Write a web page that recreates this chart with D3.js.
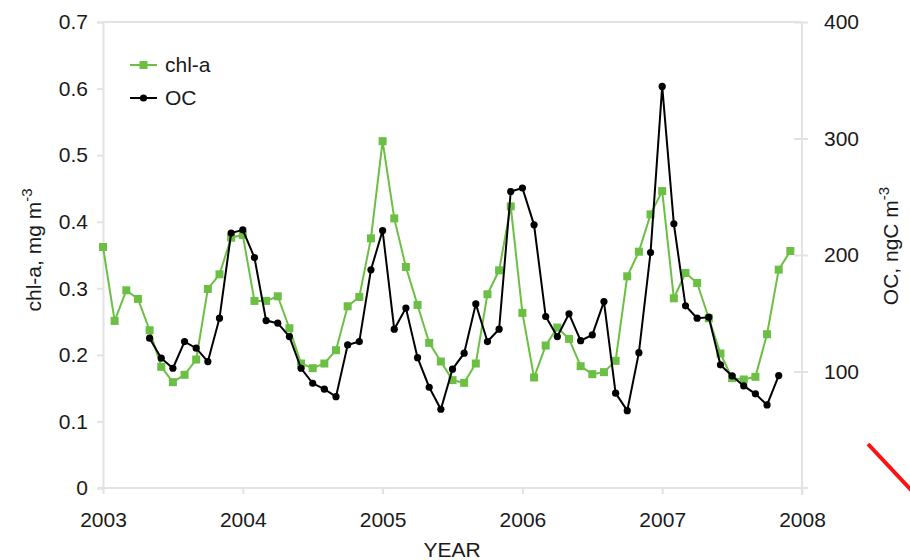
<!DOCTYPE html>
<html>
<head>
<meta charset="utf-8">
<script src="https://cdn.jsdelivr.net/npm/d3@7"></script>
<style>
  body { margin: 0; background: #fff; }
  text { font-family: "Liberation Sans", Arial, sans-serif; fill: #1a1a1a; }
</style>
</head>
<body>
<div id="chart"></div>
<script>
// monthly samples, Jan 2003 .. Dec 2007
var months = d3.range(60).map(function(i) { return 2003 + i / 12; });

var chlValues = [0.362, 0.251, 0.297, 0.284, 0.237, 0.182, 0.159, 0.170, 0.193, 0.299, 0.321, 0.376,
  0.380, 0.281, 0.281, 0.288, 0.240, 0.187, 0.180, 0.187, 0.207, 0.273, 0.287, 0.375,
  0.521, 0.405, 0.332, 0.275, 0.218, 0.190, 0.162, 0.158, 0.187, 0.291, 0.327, 0.423,
  0.263, 0.166, 0.214, 0.241, 0.224, 0.183, 0.171, 0.174, 0.191, 0.318, 0.355, 0.411,
  0.446, 0.285, 0.323, 0.308, 0.255, 0.202, 0.165, 0.163, 0.167, 0.231, 0.328, 0.356];

var ocValues = [null, null, null, null, 128.6, 111.4, 102.8, 125.7, 120.0, 108.5, 145.8, 218.8,
  221.6, 197.8, 143.7, 141.5, 130.0, 102.8, 89.9, 84.8, 78.4, 122.8, 125.7, 187.3,
  221.0, 136.3, 154.4, 111.9, 86.5, 67.6, 102.0, 115.7, 158.0, 125.7, 136.3, 254.5,
  257.5, 225.9, 147.2, 130.0, 149.5, 126.5, 131.4, 160.0, 81.4, 66.4, 116.2, 202.1,
  344.7, 226.8, 156.4, 145.8, 146.6, 105.7, 96.2, 87.6, 80.8, 71.3, 96.5, null];

var yearTicks = [2003, 2004, 2005, 2006, 2007, 2008];
var chlTicks = [0, 0.1, 0.2, 0.3, 0.4, 0.5, 0.6, 0.7];
var ocTicks = [100, 200, 300, 400];

var svgWidth = 910;
var svgHeight = 560;
var margin = { top: 22, right: 108, bottom: 72, left: 103 };
var width = svgWidth - margin.left - margin.right;
var height = svgHeight - margin.top - margin.bottom;

var green = "#6cbf45";
var axisColor = "#e3e3e3";

var svg = d3.select("#chart")
  .append("svg")
  .attr("width", svgWidth)
  .attr("height", svgHeight);

var g = svg.append("g")
  .attr("transform", `translate(${margin.left}, ${margin.top})`);

var x = d3.scaleLinear().domain([2003, 2008]).range([0, width]);
var yChl = d3.scaleLinear().domain([0, 0.7]).range([height, 0]);
var yOc = d3.scaleLinear().domain([0, 400]).range([height, 0]);

// top border of plot area
g.append("line")
  .attr("x1", 0).attr("x2", width)
  .attr("y1", 0).attr("y2", 0)
  .attr("stroke", axisColor).attr("stroke-width", 2);

// axes
var xAxis = g.append("g")
  .attr("transform", `translate(0, ${height})`)
  .call(d3.axisBottom(x).tickValues(yearTicks).tickFormat(d3.format("d")).tickSize(6).tickPadding(18));

var leftAxis = g.append("g")
  .call(d3.axisLeft(yChl).tickValues(chlTicks).tickFormat(function(d) { return d === 0 ? "0" : d3.format(".1f")(d); }).tickSize(6).tickPadding(9));

var rightAxis = g.append("g")
  .attr("transform", `translate(${width}, 0)`)
  .call(d3.axisRight(yOc).tickValues(ocTicks).tickSize(6).tickPadding(16));

[xAxis, leftAxis, rightAxis].forEach(function(a) {
  a.select(".domain").attr("stroke", axisColor).attr("stroke-width", 2);
  a.selectAll(".tick line").attr("stroke", axisColor).attr("stroke-width", 2);
  a.selectAll(".tick text").attr("font-size", 21).attr("fill", "#1a1a1a")
    .style("font-family", "'Liberation Sans', Arial, sans-serif");
});
// right axis ticks cross the line
rightAxis.selectAll(".tick line").attr("x1", -8);
rightAxis.select(".domain").attr("d", `M0,0V${height + 7}`);
xAxis.select(".domain").attr("d", `M-6,0H${width + 6}`);

// chl-a series
var chlData = months.map(function(m, i) { return { t: m, v: chlValues[i] }; });
var ocData = months.map(function(m, i) { return { t: m, v: ocValues[i] }; })
  .filter(function(d) { return d.v !== null; });

g.append("path")
  .datum(chlData)
  .attr("fill", "none")
  .attr("stroke", green)
  .attr("stroke-width", 2)
  .attr("d", d3.line().x(d => x(d.t)).y(d => yChl(d.v)));

g.selectAll("rect.chl")
  .data(chlData)
  .enter()
  .append("rect")
  .attr("class", "chl")
  .attr("x", d => x(d.t) - 4)
  .attr("y", d => yChl(d.v) - 4)
  .attr("width", 8)
  .attr("height", 8)
  .attr("fill", green);

// OC series
g.append("path")
  .datum(ocData)
  .attr("fill", "none")
  .attr("stroke", "#000")
  .attr("stroke-width", 2)
  .attr("d", d3.line().x(d => x(d.t)).y(d => yOc(d.v)));

g.selectAll("circle.oc")
  .data(ocData)
  .enter()
  .append("circle")
  .attr("class", "oc")
  .attr("cx", d => x(d.t))
  .attr("cy", d => yOc(d.v))
  .attr("r", 3.6)
  .attr("fill", "#000");

// axis labels
var leftLabel = svg.append("text")
  .attr("transform", "translate(41, 250) rotate(-90)")
  .attr("text-anchor", "middle")
  .attr("font-size", 21);
leftLabel.append("tspan").text("chl-a, mg m");
leftLabel.append("tspan").attr("dy", -9).attr("font-size", 15).text("-3");

var rightLabel = svg.append("text")
  .attr("transform", "translate(898, 246) rotate(-90)")
  .attr("text-anchor", "middle")
  .attr("font-size", 21);
rightLabel.append("tspan").text("OC, ngC m");
rightLabel.append("tspan").attr("dy", -9).attr("font-size", 15).text("-3");

svg.append("text")
  .attr("x", 452)
  .attr("y", 557)
  .attr("text-anchor", "middle")
  .attr("font-size", 21)
  .text("YEAR");

// legend
var legend = svg.append("g").attr("transform", "translate(130, 0)");
legend.append("line").attr("x1", 0).attr("x2", 27).attr("y1", 65).attr("y2", 65)
  .attr("stroke", green).attr("stroke-width", 2);
legend.append("rect").attr("x", 9.5).attr("y", 61).attr("width", 8).attr("height", 8).attr("fill", green);
legend.append("text").attr("x", 35).attr("y", 65).attr("dy", "0.35em").attr("font-size", 21).text("chl-a");
legend.append("line").attr("x1", 0).attr("x2", 27).attr("y1", 98).attr("y2", 98)
  .attr("stroke", "#000").attr("stroke-width", 2);
legend.append("circle").attr("cx", 13.5).attr("cy", 98).attr("r", 3.6).attr("fill", "#000");
legend.append("text").attr("x", 35).attr("y", 98).attr("dy", "0.35em").attr("font-size", 21).text("OC");

// red stroke at lower right
svg.append("line")
  .attr("x1", 868).attr("y1", 444)
  .attr("x2", 912).attr("y2", 491)
  .attr("stroke", "#ff1010")
  .attr("stroke-width", 4);
</script>
</body>
</html>
